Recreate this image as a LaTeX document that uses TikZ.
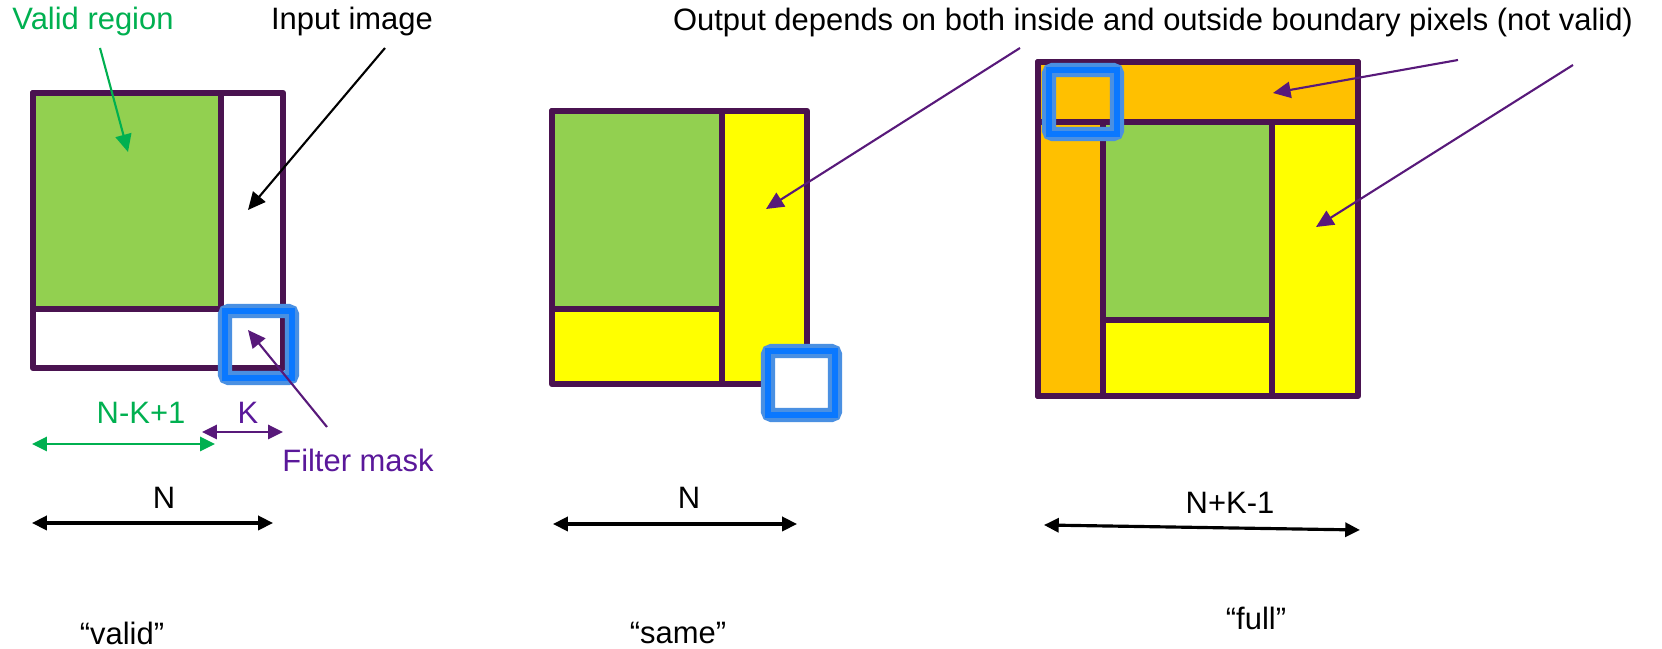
\documentclass[tikz,border=0pt]{standalone}
\usepackage{fontspec}
\setmainfont{Liberation Sans}
\usetikzlibrary{arrows.meta}

\definecolor{rim}{HTML}{4A1350}
\definecolor{validgreen}{HTML}{92D050}
\definecolor{textgreen}{HTML}{00B050}
\definecolor{padyellow}{HTML}{FFFF00}
\definecolor{padorange}{HTML}{FFC000}
\definecolor{notepurple}{HTML}{58197A}
\definecolor{kpurple}{HTML}{5A189A}
\definecolor{maskout}{HTML}{4A90E2}
\definecolor{maskin}{HTML}{0A78FF}

\tikzset{
    cell/.style={draw=rim, line width=1.8pt, line join=round},
    lbl/.style={font=\fontsize{8.8}{10.5}\selectfont, inner sep=1pt},
    pointer/.style={-{Triangle[length=5pt,width=4.6pt]}, line width=0.6pt},
    span/.style={{Triangle[length=4.2pt,width=4pt]}-{Triangle[length=4.2pt,width=4pt]}, line width=0.9pt}
}

% filter mask: light blue rim with a bright blue core
\newcommand{\filtermask}[5]{%
    \draw[maskout, line width=4pt, rounded corners=1pt, #5] (#1,#2) rectangle (#3,#4);
    \draw[maskin, line width=1.7pt] (#1,#2) rectangle (#3,#4);
}

\begin{document}
\begin{tikzpicture}[x=0.01cm, y=-0.01cm]

        \useasboundingbox (0,0) rectangle (1662,649);

        % "valid": input image with valid region
        \draw[cell, fill=white] (33,93) rectangle (283,368);
        \draw[cell, fill=validgreen] (33,93) rectangle (221,309);
        \filtermask{225}{311}{292}{378}{}

        % "same": output as large as the input
        \draw[cell, fill=padyellow] (552,111) rectangle (807,384);
        \draw[cell, fill=validgreen] (552,111) rectangle (722,309);
        \draw[cell] (722,111) -- (722,384);
        \filtermask{768}{351}{835}{415}{fill=white}

        % "full": output grown by K-1
        \draw[cell, fill=padyellow] (1038,62) rectangle (1358,396);
        \draw[cell, fill=padorange] (1038,62) rectangle (1358,122);
        \draw[cell, fill=padorange] (1038,122) rectangle (1103,396);
        \draw[cell, fill=validgreen] (1103,122) rectangle (1272,320);
        \draw[cell] (1272,122) -- (1272,396);
        \filtermask{1049}{70}{1117}{134}{}

        % Labels
        \node[lbl, textgreen] (validlbl) at (93,22) {Valid region};
        \node[lbl] (inputlbl) at (352,22) {Input image};
        \node[lbl] (outputlbl) at (1153,23) {Output depends on both inside and outside boundary pixels (not valid)};
        \node[lbl, kpurple] (masklbl) at (358,460) {Filter mask};

        % Pointers
        \coordinate (validpt) at (128,152);
        \coordinate (inputpt) at (248,210);
        \coordinate (maskpt) at (248,330);
        \coordinate (masktail) at (327,427);
        \draw[pointer, textgreen] (100,48) -- (validpt);
        \draw[pointer, black] (385,48) -- (inputpt);
        \draw[pointer, notepurple] (masktail) -- (maskpt);

        \coordinate (sametail) at (1020,48);
        \coordinate (samept) at (766,209);
        \coordinate (toptail) at (1458,60);
        \coordinate (toppt) at (1273,93);
        \coordinate (righttail) at (1573,65);
        \coordinate (rightpt) at (1316,227);
        \draw[pointer, notepurple] (sametail) -- (samept);
        \draw[pointer, notepurple] (toptail) -- (toppt);
        \draw[pointer, notepurple] (righttail) -- (rightpt);

        % Sizes
        \node[lbl, textgreen] (nk1) at (141,413) {N-K+1};
        \node[lbl, kpurple] (klbl) at (248,413) {K};
        \coordinate (nk1a) at (32,444);
        \coordinate (nk1b) at (215,444);
        \coordinate (ka) at (202,432);
        \coordinate (kb) at (283,432);
        \draw[span, textgreen, line width=0.7pt] (nk1a) -- (nk1b);
        \draw[span, notepurple, line width=0.7pt] (ka) -- (kb);

        \node[lbl] (nvalid) at (164,498) {N};
        \node[lbl] (nsame) at (689,498) {N};
        \node[lbl] (nfull) at (1230,503) {N+K-1};
        \coordinate (va) at (32,523);
        \coordinate (vb) at (273,523);
        \coordinate (sa) at (553,524);
        \coordinate (sb) at (797,524);
        \coordinate (fa) at (1044,525);
        \coordinate (fb) at (1360,530);
        \draw[span] (va) -- (vb);
        \draw[span] (sa) -- (sb);
        \draw[span] (fa) -- (fb);

        % Modes
        \node[lbl] (validmode) at (122,633) {“valid”};
        \node[lbl] (samemode) at (678,633) {“same”};
        \node[lbl] (fullmode) at (1256,618) {“full”};

    \end{tikzpicture}
\end{document}
